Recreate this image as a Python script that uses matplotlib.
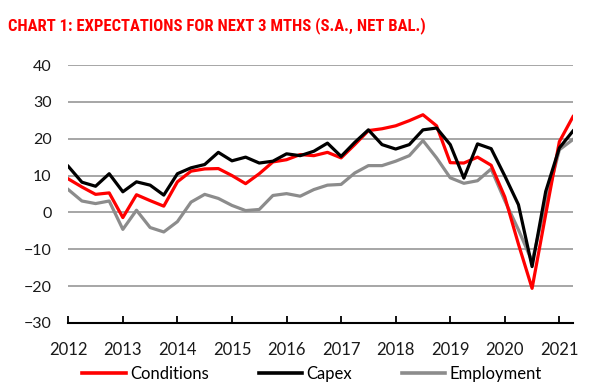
import numpy as np
import matplotlib.pyplot as plt

# quarterly survey, 2012Q1 .. 2021Q2
years = list(range(2012, 2022))
conditions = [9.1, 6.9, 4.9, 5.3, -1.4, 4.8, 3.2, 1.7, 8.3, 11.2,
              11.8, 11.9, 10.0, 7.8, 10.5, 13.7, 14.3, 15.7, 15.4, 16.3,
              14.8, 18.4, 22.2, 22.7, 23.5, 24.9, 26.5, 23.5, 13.5, 13.4,
              15.0, 12.8, 4.2, -8.6, -20.6, -0.5, 19.2, 26.0]
capex = [12.5, 8.2, 7.1, 10.5, 5.6, 8.3, 7.4, 4.7, 10.5, 12.1,
         13.0, 16.3, 14.0, 15.0, 13.4, 13.9, 15.9, 15.4, 16.6, 18.8,
         15.2, 19.0, 22.4, 18.4, 17.2, 18.4, 22.4, 22.9, 18.4, 9.3,
         18.6, 17.3, 9.9, 2.1, -14.7, 5.7, 17.5, 22.1]
employment = [6.2, 3.1, 2.4, 3.1, -4.6, 0.6, -4.1, -5.3, -2.5, 2.8,
              4.9, 3.8, 1.9, 0.5, 0.8, 4.6, 5.1, 4.4, 6.2, 7.4,
              7.6, 10.7, 12.7, 12.7, 13.9, 15.4, 19.5, 14.8, 9.4, 7.9,
              8.6, 11.8, 3.2, -4.7, -13.3, 2.5, 17.0, 19.8]

plt.rcParams['font.family'] = ['Lato', 'DejaVu Sans']

fig = plt.figure(figsize=(6, 3.89), dpi=100)
ax = fig.add_axes([0.1138, 0.1697, 0.8412, 0.6632])

x = np.arange(len(conditions))
ax.plot(x, conditions, color='#ff0000', lw=2.3, label='Conditions', zorder=3)
ax.plot(x, capex, color='black', lw=2.3, label='Capex', zorder=4)
ax.plot(x, employment, color='#8c8c8c', lw=2.3, label='Employment', zorder=2)

ax.set_xlim(0, len(conditions) - 1)
ax.set_ylim(-30, 40)
ax.set_yticks(range(-30, 41, 10))
ax.set_xticks(range(0, len(conditions), 4))
ax.set_xticklabels([str(y) for y in years])

ax.grid(axis='y', color='#a6a6a6', lw=1.4)
ax.set_axisbelow(True)
for side in ['left', 'right', 'top']:
    ax.spines[side].set_visible(False)
ax.spines['bottom'].set_color('black')
ax.spines['bottom'].set_linewidth(1.5)
ax.spines['bottom'].set_zorder(5)

ax.tick_params(axis='y', length=0, pad=12, labelsize=11.5, labelcolor='#1a1a1a')
ax.tick_params(axis='x', direction='in', length=5, width=1.3, pad=14,
               labelsize=12, labelcolor='#1a1a1a')

leg = fig.legend(loc='lower center', bbox_to_anchor=(0.52, -0.02), ncol=3,
                 frameon=False, fontsize=12, handlelength=2.6,
                 handletextpad=0.25, columnspacing=3.0)
for line in leg.get_lines():
    line.set_linewidth(2.6)

# condensed heading; falls back to a narrower face when no condensed one exists
fig.text(0.013, 0.922, 'CHART 1: EXPECTATIONS FOR NEXT 3 MTHS (S.A., NET BAL.)',
         color='#ff0000', fontsize=12, fontweight='bold',
         family=['DejaVu Sans Condensed', 'Roboto Condensed', 'Liberation Sans Narrow', 'Roboto'],
         fontstretch='condensed')

fig.savefig('out.png', dpi=100)
